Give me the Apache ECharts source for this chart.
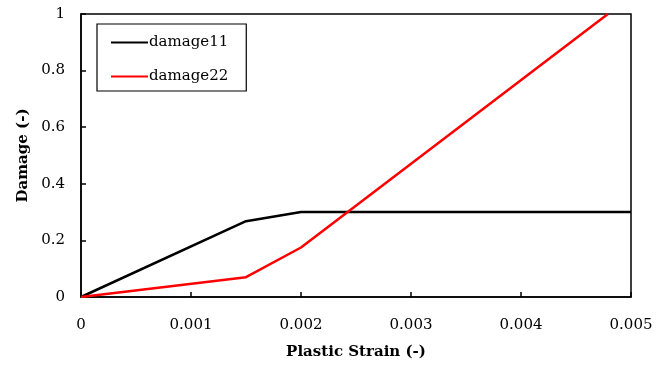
<!DOCTYPE html>
<html>
<head>
<meta charset="utf-8">
<script src="https://cdn.jsdelivr.net/npm/echarts@6/dist/echarts.min.js"></script>
<style>
  html, body { margin: 0; padding: 0; background: #fff; }
  #main { width: 670px; height: 365px; }
</style>
</head>
<body>
<div id="main"></div>
<script>
// 数据
const strain11 = [0, 0.0015, 0.002, 0.005];
const damage11 = [0, 0.268, 0.30, 0.30];
const strain22 = [0, 0.0015, 0.002, 0.00479];
const damage22 = [0, 0.07, 0.175, 1.0];
const seriesNames = ['damage11', 'damage22'];

function pairs(xs, ys) {
    return xs.map((x, i) => [x, ys[i]]);
}

let font = 'DejaVu Serif';
let myChart = echarts.init(document.querySelector('#main'));
let option = {
    animation: false,
    textStyle: { fontFamily: font },
    grid: {
        left: 81, right: 39, top: 14, bottom: 65,
        show: true, borderColor: '#000', borderWidth: 1.5
    },
    legend: {
        orient: 'vertical',
        left: 97, top: 24,
        padding: [11, 18, 7, 14],
        itemGap: 19,
        itemWidth: 37,
        itemHeight: 10,
        borderColor: '#000',
        borderWidth: 1.2,
        icon: 'path://M0,4 L37,4 L37,6 L0,6 Z',
        textStyle: { fontFamily: font, fontSize: 15, color: '#000', padding: [0, 0, 0, -4] },
        data: seriesNames
    },
    xAxis: {
        type: 'value',
        min: 0, max: 0.005, interval: 0.001,
        name: 'Plastic Strain (-)',
        nameLocation: 'middle',
        nameGap: 48,
        nameTextStyle: { fontFamily: font, fontSize: 15, fontWeight: 'bold', color: '#000' },
        axisLine: { lineStyle: { color: '#000', width: 1.5 } },
        axisTick: { inside: true, length: 5, lineStyle: { color: '#000', width: 1.5 } },
        axisLabel: { fontFamily: font, fontSize: 15, color: '#000', margin: 21,
            formatter: v => v === 0 ? '0' : v.toFixed(3) },
        splitLine: { show: false }
    },
    yAxis: {
        type: 'value',
        min: 0, max: 1, interval: 0.2,
        name: 'Damage (-)',
        nameLocation: 'middle',
        nameGap: 45,
        nameTextStyle: { fontFamily: font, fontSize: 15, fontWeight: 'bold', color: '#000' },
        axisLine: { show: true, lineStyle: { color: '#000', width: 1.5 } },
        axisTick: { show: true, inside: true, length: 5, lineStyle: { color: '#000', width: 1.5 } },
        axisLabel: { fontFamily: font, fontSize: 15, color: '#000', margin: 16,
            formatter: v => v === 0 ? '0' : v === 1 ? '1' : v.toFixed(1) },
        splitLine: { show: false }
    },
    series: [
        {
            name: seriesNames[0],
            type: 'line',
            data: pairs(strain11, damage11),
            symbol: 'none',
            lineStyle: { color: '#000', width: 2.5 },
            itemStyle: { color: '#000' }
        },
        {
            name: seriesNames[1],
            type: 'line',
            data: pairs(strain22, damage22),
            symbol: 'none',
            lineStyle: { color: '#ff0000', width: 2.5 },
            itemStyle: { color: '#ff0000' }
        }
    ]
};
myChart.setOption(option);
</script>
</body>
</html>
